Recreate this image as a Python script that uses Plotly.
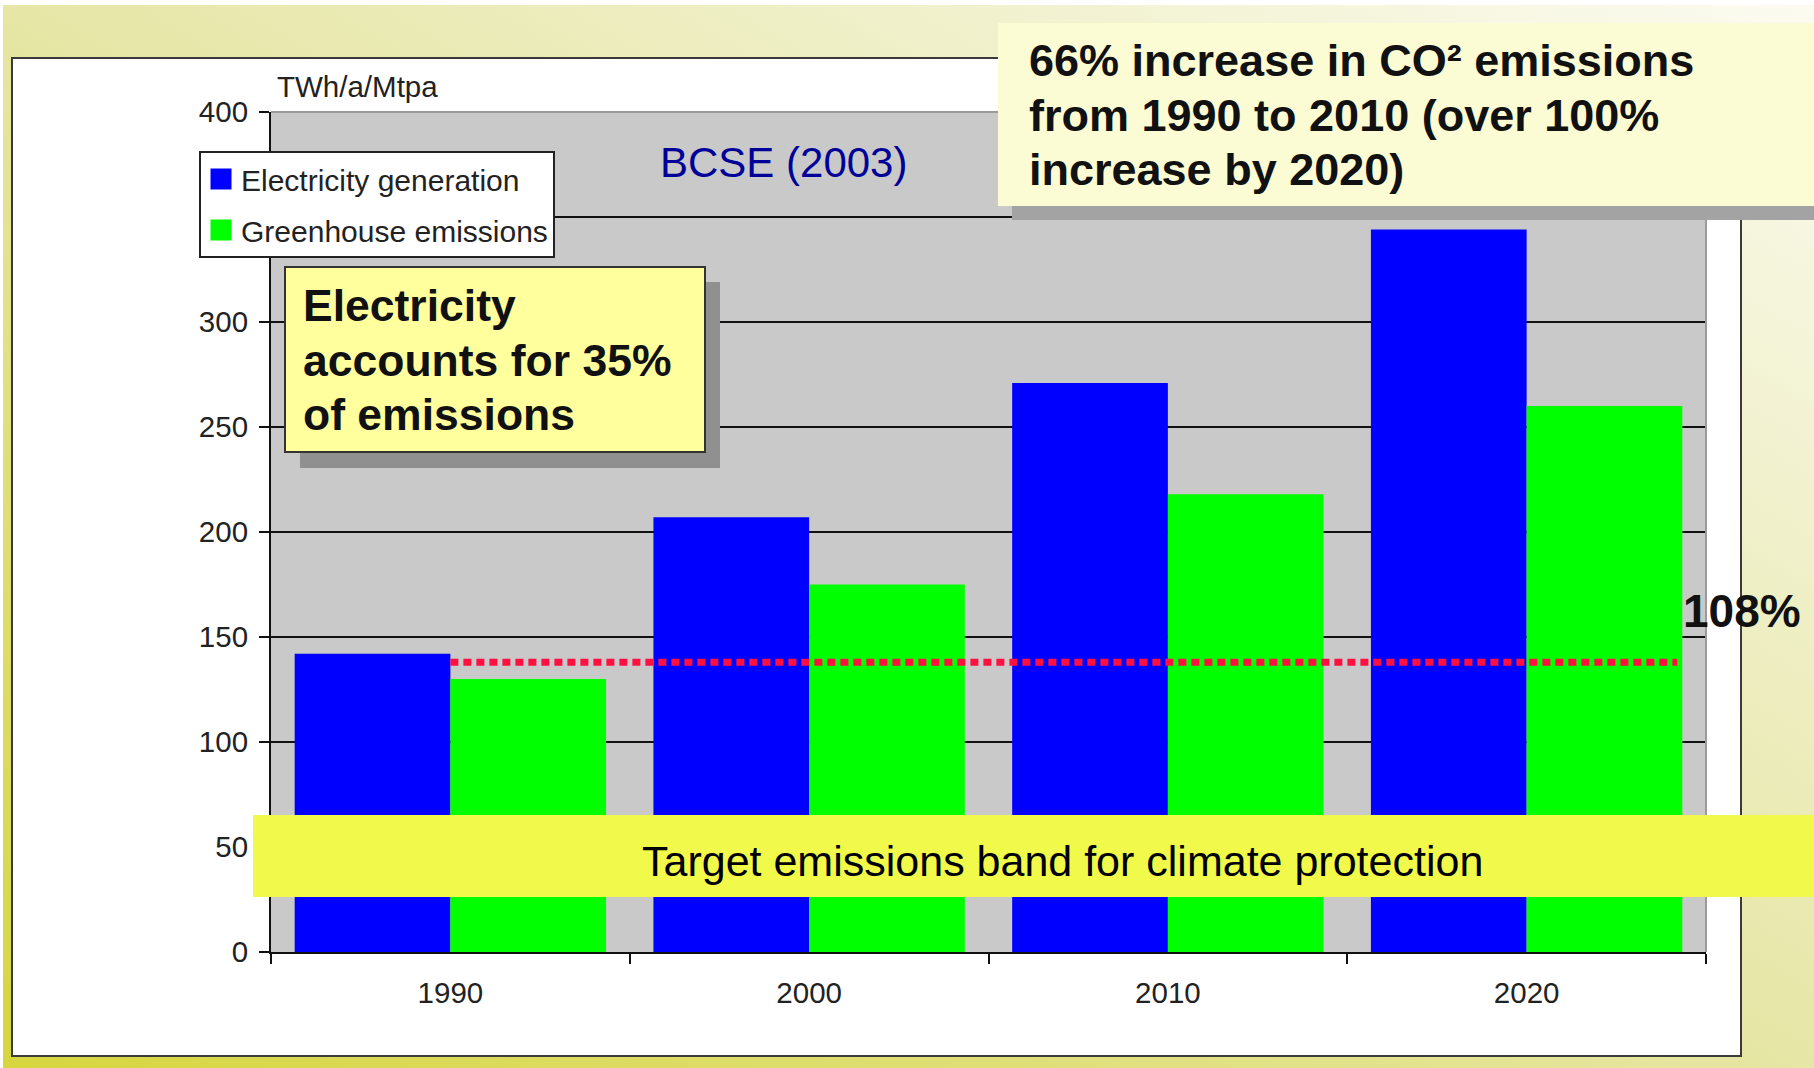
import base64
import plotly.graph_objects as go

# ---------------- data ----------------
years = ["1990", "2000", "2010", "2020"]
electricity_generation = [142, 207, 271, 344]
greenhouse_emissions = [130, 175, 218, 260]
baseline_1990_level = 138          # red dotted reference line
y_ticks = [0, 50, 100, 150, 200, 250, 300, 350, 400]

# ---------------- geometry helpers (layout only) ----------------
W, H = 1814, 1068
OFF = 0                      # body margin removed via post_script
ML, MT = 271 - OFF, 112 - OFF
PW, PH = 1435, 840
MR, MB = W - ML - PW, H - MT - PH


def px(x):
    """display x pixel -> paper coordinate"""
    return (x - OFF - ML) / PW


def py(y):
    """display y pixel -> paper coordinate"""
    return (MT + PH - (y - OFF)) / PH


FONT = "Liberation Sans, Arial, Helvetica, sans-serif"

fig = go.Figure()

fig.add_trace(go.Bar(x=years, y=electricity_generation, name="Electricity generation",
                     marker=dict(color="#0000FF", line=dict(width=0)), showlegend=False))
fig.add_trace(go.Bar(x=years, y=greenhouse_emissions, name="Greenhouse emissions",
                     marker=dict(color="#00FF00", line=dict(width=0)), showlegend=False))

# legend entries (square swatches)
for nm, col in [("Electricity generation", "#0000FF"), ("Greenhouse emissions", "#00FF00")]:
    fig.add_trace(go.Scatter(x=[None], y=[None], mode="markers", name=nm, legendgroup=nm,
                             marker=dict(symbol="square", size=16, color=col,
                                         line=dict(color=col, width=5))))

# ---------------- background gradient ----------------
svg = ('<svg xmlns="http://www.w3.org/2000/svg" width="1814" height="1068" viewBox="0 0 1814 1068" '
       'preserveAspectRatio="none"><defs><linearGradient id="g" x1="0" y1="1" x2="1" y2="0">'
       '<stop offset="0" stop-color="#D6D63E"/><stop offset="0.5" stop-color="#E6E6A6"/>'
       '<stop offset="1" stop-color="#FBFBF1"/></linearGradient></defs>'
       '<rect width="1814" height="1068" fill="url(#g)"/></svg>')
src = "data:image/svg+xml;base64," + base64.b64encode(svg.encode()).decode()
fig.add_layout_image(dict(source=src, xref="paper", yref="paper", x=px(3), y=py(5),
                          sizex=(W - 3) / PW, sizey=(H - 5) / PH, xanchor="left", yanchor="top",
                          sizing="stretch", layer="below"))

shapes = []
# white frame
shapes.append(dict(type="rect", xref="paper", yref="paper", x0=px(12), x1=px(1741),
                   y0=py(1056), y1=py(58), fillcolor="white", line=dict(color="#3a3a3a", width=2),
                   layer="below"))
# grey plot area
shapes.append(dict(type="rect", xref="paper", yref="paper", x0=0, x1=1, y0=0, y1=1,
                   fillcolor="#C9C9C9", line=dict(width=0), layer="below"))
# top & right grey borders of plot area
shapes.append(dict(type="line", xref="paper", yref="paper", x0=0, x1=1, y0=1, y1=1,
                   line=dict(color="#9a9a9a", width=2), layer="above"))
shapes.append(dict(type="line", xref="paper", yref="paper", x0=1, x1=1, y0=0, y1=1,
                   line=dict(color="#9a9a9a", width=2), layer="above"))
# red dotted baseline
shapes.append(dict(type="line", xref="x", yref="y", x0=0, x1=3.42,
                   y0=baseline_1990_level, y1=baseline_1990_level,
                   line=dict(color="#FF1040", width=7, dash="8px,5px"), layer="above"))
# target band
shapes.append(dict(type="rect", xref="paper", yref="paper", x0=px(253), x1=px(1830),
                   y0=py(897), y1=py(815), fillcolor="#F1F94A", line=dict(width=0), layer="above"))
# electricity note box + shadow
shapes.append(dict(type="rect", xref="paper", yref="paper", x0=px(300), x1=px(720),
                   y0=py(468), y1=py(282), fillcolor="#909090", line=dict(width=0), layer="above"))
shapes.append(dict(type="rect", xref="paper", yref="paper", x0=px(285), x1=px(705),
                   y0=py(452), y1=py(267), fillcolor="#FFFF9E", line=dict(color="#333", width=2),
                   layer="above"))
# top-right note box + shadow
shapes.append(dict(type="rect", xref="paper", yref="paper", x0=px(1012), x1=px(1830),
                   y0=py(220), y1=py(37), fillcolor="#A3A3A3", line=dict(width=0), layer="above"))
shapes.append(dict(type="rect", xref="paper", yref="paper", x0=px(998), x1=px(1830),
                   y0=py(206), y1=py(23), fillcolor="#FBFBD4", line=dict(width=0), layer="above"))

annotations = [
    dict(text="TWh/a/Mtpa", x=px(275), y=py(86), xanchor="left", yanchor="middle",
         font=dict(size=29.5, color="#222")),
    dict(text="BCSE (2003)", x=px(783), y=py(162), xanchor="center", yanchor="middle",
         font=dict(size=42, color="#000099")),
    dict(text="108%", x=px(1681), y=py(611), xanchor="left", yanchor="middle",
         font=dict(size=46, color="#111", weight="bold")),
    dict(text="Target emissions band for climate protection", x=px(1062), y=py(861),
         xanchor="center", yanchor="middle", font=dict(size=43, color="#000")),
]
for txt, yy in [("Electricity", 305), ("accounts for 35%", 360), ("of emissions", 414)]:
    annotations.append(dict(text=txt, x=px(301), y=py(yy), xanchor="left", yanchor="middle",
                            font=dict(size=44.5, color="#111", weight="bold")))
for txt, yy in [("66% increase in CO² emissions", 61), ("from 1990 to 2010 (over 100%", 116),
                ("increase by 2020)", 170)]:
    annotations.append(dict(text=txt, x=px(1027), y=py(yy), xanchor="left", yanchor="middle",
                            font=dict(size=45, color="#111", weight="bold")))
for a in annotations:
    a.update(xref="paper", yref="paper", showarrow=False)

fig.update_layout(
    width=W, height=H,
    margin=dict(l=ML, r=MR, t=MT, b=MB, autoexpand=False),
    paper_bgcolor="white", plot_bgcolor="rgba(0,0,0,0)",
    font=dict(family=FONT, color="#222"),
    barmode="group", bargap=0.132, bargroupgap=0,
    shapes=shapes, annotations=annotations,
    legend=dict(x=px(199), y=py(151), xanchor="left", yanchor="top", bgcolor="white",
                bordercolor="#222", borderwidth=2, font=dict(size=30, color="#222"),
                traceorder="grouped", tracegroupgap=9),
    xaxis=dict(type="category", categoryorder="array", categoryarray=years,
               showgrid=False, showline=True, linecolor="#111", linewidth=2,
               ticks="outside", tickson="boundaries", ticklen=10, tickwidth=2, tickcolor="#111",
               tickfont=dict(size=29.5, color="#222"), ticklabelstandoff=14, zeroline=False),
    yaxis=dict(range=[0, 400], tickvals=y_ticks, showgrid=True, gridcolor="#111", gridwidth=1.5,
               showline=True, linecolor="#111", linewidth=2, ticks="outside", ticklen=10,
               tickwidth=2, tickcolor="#111", tickfont=dict(size=29.5, color="#222"),
               ticklabelstandoff=5, zeroline=False),
)

fig.write_html("out.html", config={"displayModeBar": False},
               post_script="document.body.style.margin='0';document.body.style.overflow='hidden';")
